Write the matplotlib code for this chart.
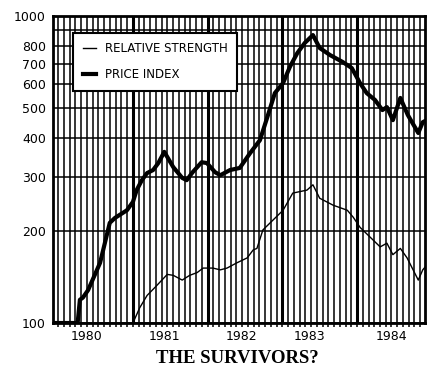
import numpy as np
import matplotlib
matplotlib.use('Agg')
import matplotlib.pyplot as plt
from matplotlib.lines import Line2D

# price index (decimal year, value)
price_years = [1979.93, 1980.26, 1980.29, 1980.33, 1980.40, 1980.56, 1980.69, 1980.76,
               1980.92, 1981.00, 1981.05, 1981.12, 1981.19, 1981.27, 1981.34, 1981.42,
               1981.54, 1981.66, 1981.72, 1981.80, 1981.92, 1981.99, 1982.10, 1982.17,
               1982.30, 1982.43, 1982.57, 1982.70, 1982.80, 1982.90, 1983.01, 1983.10,
               1983.20, 1983.30, 1983.41, 1983.50, 1983.64, 1983.81, 1983.93, 1984.04,
               1984.13, 1984.24, 1984.34, 1984.40, 1984.48, 1984.58, 1984.68, 1984.82,
               1984.88, 1984.91]
price_values = [100, 100, 119, 121, 128, 157, 212, 220,
                233, 248, 271, 292, 308, 315, 332, 361,
                322, 297, 292, 310, 334, 332, 310, 303,
                315, 320, 358, 394, 469, 561, 605, 682,
                757, 817, 867, 787, 746, 708, 677, 605,
                561, 533, 494, 505, 458, 541, 476, 416,
                451, 455]

# relative strength
rs_years = [1981.00, 1981.09, 1981.19, 1981.30, 1981.46, 1981.54, 1981.66, 1981.76,
            1981.86, 1981.94, 1982.07, 1982.17, 1982.26, 1982.39, 1982.53, 1982.61,
            1982.66, 1982.74, 1982.88, 1983.01, 1983.14, 1983.33, 1983.41, 1983.50,
            1983.68, 1983.87, 1983.95, 1984.04, 1984.17, 1984.31, 1984.40, 1984.48,
            1984.58, 1984.67, 1984.82, 1984.88, 1984.91]
rs_values = [100, 112, 123, 131, 144, 143, 138, 143,
             146, 151, 151, 149, 151, 157, 163, 173,
             175, 201, 217, 233, 265, 271, 282, 255,
             242, 233, 221, 205, 191, 177, 182, 167,
             175, 163, 138, 149, 152]

year_labels = ['1980', '1981', '1982', '1983', '1984']
year_label_pos = [1980.38, 1981.42, 1982.46, 1983.37, 1984.46]
year_bounds = [1981, 1982, 1983, 1984]
y_ticks = [100, 200, 300, 400, 500, 600, 700, 800, 1000]

fig = plt.figure(figsize=(4.39, 3.73), dpi=100)
ax = fig.add_axes([0.1207, 0.134, 0.8474, 0.823])

ax.set_yscale('log')
ax.set_ylim(100, 1000)
ax.set_xlim(1979.93, 1984.91)

# vertical grid: 13 periods per year
grid_x = [1981 + k / 13 for k in range(-14, 52) if 1979.93 < 1981 + k / 13 < 1984.91]
ax.set_xticks(grid_x, minor=True)
ax.set_xticks(year_label_pos)
ax.set_xticklabels(year_labels)
ax.grid(which='minor', axis='x', color='black', lw=1.1)
ax.tick_params(axis='x', which='minor', length=3, width=1.1, direction='out')
ax.tick_params(axis='x', which='major', length=0, pad=5, labelsize=9)
for b in year_bounds:
    ax.axvline(b, color='black', lw=2.2, zorder=1)

ax.set_yticks(y_ticks)
ax.set_yticklabels([str(v) for v in y_ticks])
ax.set_yticks([900], minor=True)
ax.yaxis.set_minor_formatter(matplotlib.ticker.NullFormatter())
ax.grid(which='both', axis='y', color='black', lw=1.1)
ax.tick_params(axis='y', which='both', length=0, pad=5, labelsize=9)
ax.set_axisbelow(True)

for s in ax.spines.values():
    s.set_linewidth(2)

ax.plot(rs_years, rs_values, color='black', lw=1.0, zorder=3)
ax.plot(price_years, price_values, color='black', lw=3.0, zorder=4,
        solid_joinstyle='round')

handles = [Line2D([], [], color='black', lw=1.0),
           Line2D([], [], color='black', lw=3.0)]
leg = ax.legend(handles, ['RELATIVE STRENGTH', 'PRICE INDEX'],
                loc='upper left', bbox_to_anchor=(0.054, 0.945), borderaxespad=0,
                fancybox=False, framealpha=1, edgecolor='black', fontsize=8.5,
                handlelength=1.1, handletextpad=0.8, labelspacing=1.1,
                borderpad=0.8)
leg.get_frame().set_linewidth(1.5)
leg.set_zorder(5)

fig.text(0.54, 0.038, 'THE SURVIVORS?', ha='center', va='center',
         fontsize=13.5, fontweight='bold', family='Liberation Serif')

fig.savefig('out.png', dpi=100)
